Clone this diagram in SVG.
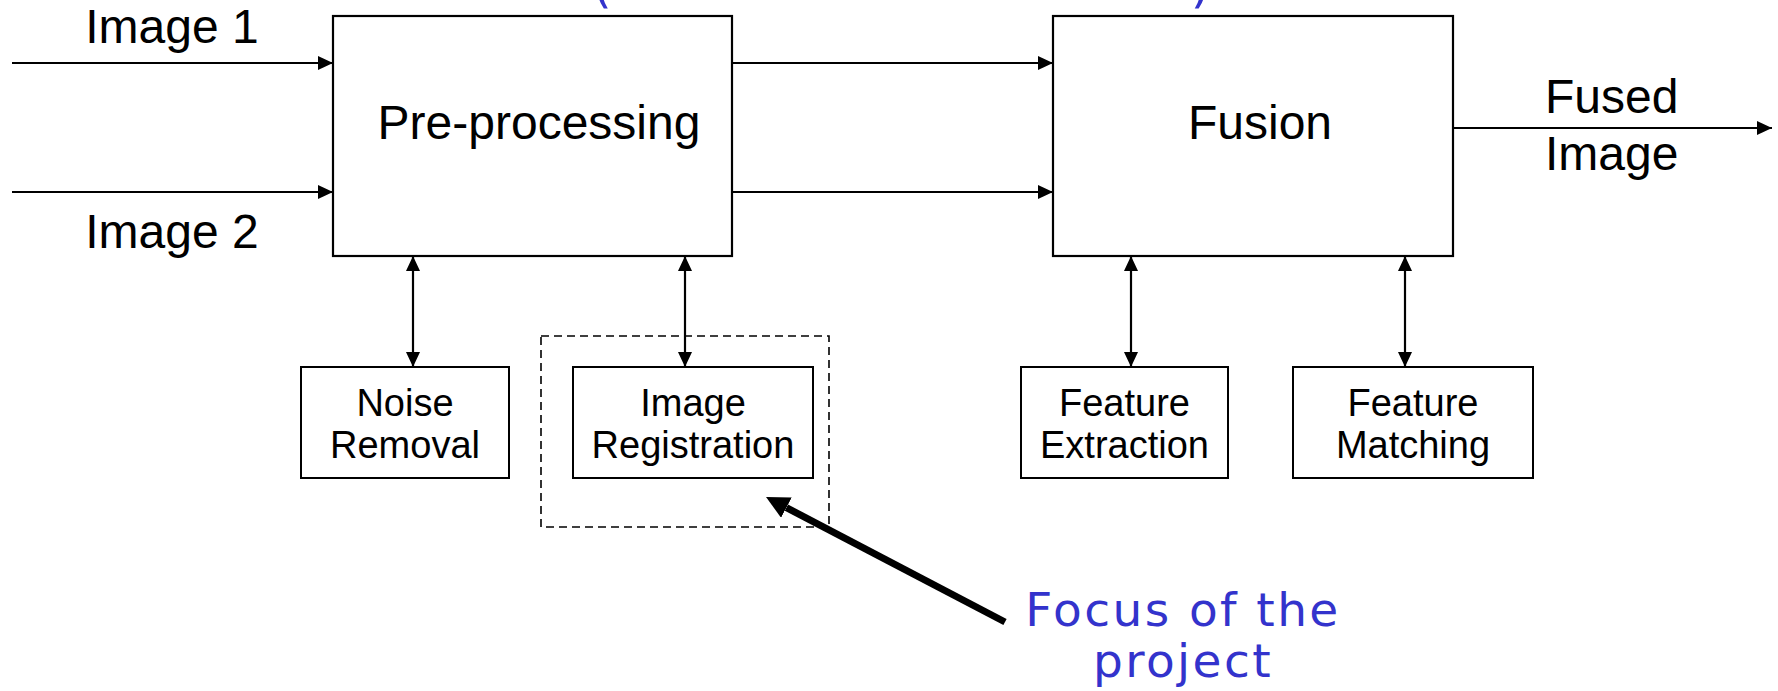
<svg xmlns="http://www.w3.org/2000/svg" width="1778" height="691" viewBox="0 0 1778 691">
<style>
  .box { fill: #fff; stroke: #000; stroke-width: 2.2; }
  .sbox { fill: #fff; stroke: #000; stroke-width: 2; }
  .dash { fill: none; stroke: #000; stroke-width: 1.6; stroke-dasharray: 8 5; }
  .big { font-family: "Liberation Sans", Arial, sans-serif; font-size: 48px; fill: #000; }
  .small { font-family: "Liberation Sans", Arial, sans-serif; font-size: 38px; fill: #000; text-anchor: middle; }
  .blue { font-family: "DejaVu Sans", Verdana, sans-serif; font-size: 47px; fill: #3333cc; text-anchor: middle; letter-spacing: 2.4px; }
  .conn { stroke: #000; stroke-width: 2.2; fill: none; }
</style>
<defs>
  <marker id="ah" markerUnits="userSpaceOnUse" markerWidth="16" markerHeight="16" refX="15" refY="7" orient="auto-start-reverse" viewBox="0 0 16 16">
    <path d="M0,0 L15,7 L0,14 z" fill="#000"/>
  </marker>
  <marker id="bigah" markerUnits="userSpaceOnUse" markerWidth="24" markerHeight="24" refX="0" refY="11.5" orient="auto" viewBox="0 0 24 24">
    <path d="M0,0 L23,11.5 L0,23 z" fill="#000"/>
  </marker>
</defs>
<rect width="1778" height="691" fill="#fff"/>

<g id="title-fragments">
  <text x="602" y="1.5" class="blue" style="font-size:50px;letter-spacing:0">(</text>
  <text x="1200.5" y="1.5" class="blue" style="font-size:50px;letter-spacing:0">)</text>
</g>

<g id="connectors">
  <line class="conn" x1="12" y1="63" x2="333" y2="63" marker-end="url(#ah)"/>
  <line class="conn" x1="12" y1="192" x2="333" y2="192" marker-end="url(#ah)"/>
  <line class="conn" x1="732" y1="63" x2="1053" y2="63" marker-end="url(#ah)"/>
  <line class="conn" x1="732" y1="192" x2="1053" y2="192" marker-end="url(#ah)"/>
  <line class="conn" x1="1453" y1="128" x2="1772" y2="128" marker-end="url(#ah)"/>
  <line class="conn" x1="413" y1="256" x2="413" y2="367" marker-start="url(#ah)" marker-end="url(#ah)"/>
  <line class="conn" x1="685" y1="256" x2="685" y2="367" marker-start="url(#ah)" marker-end="url(#ah)"/>
  <line class="conn" x1="1131" y1="256" x2="1131" y2="367" marker-start="url(#ah)" marker-end="url(#ah)"/>
  <line class="conn" x1="1405" y1="256" x2="1405" y2="367" marker-start="url(#ah)" marker-end="url(#ah)"/>
  <line x1="1005" y1="622" x2="786.4" y2="507.6" stroke="#000" stroke-width="7" marker-end="url(#bigah)"/>
</g>

<g id="input-labels">
  <text x="172" y="43" class="big" text-anchor="middle">Image 1</text>
  <text x="172" y="248" class="big" text-anchor="middle">Image 2</text>
</g>

<g id="preprocessing">
  <rect class="box" x="333" y="16" width="399" height="240"/>
  <text x="539" y="139" class="big" text-anchor="middle">Pre-processing</text>
</g>

<g id="fusion">
  <rect class="box" x="1053" y="16" width="400" height="240"/>
  <text x="1260" y="139" class="big" text-anchor="middle">Fusion</text>
</g>

<g id="output-label">
  <text x="1545" y="113" class="big">Fused</text>
  <text x="1545" y="170" class="big">Image</text>
</g>

<g id="noise-removal">
  <rect class="sbox" x="301" y="367" width="208" height="111"/>
  <text x="405" y="416" class="small">Noise</text>
  <text x="405" y="458" class="small">Removal</text>
</g>

<g id="focus-box">
  <rect class="dash" x="541" y="336" width="288" height="191"/>
</g>

<g id="image-registration">
  <rect class="sbox" x="573" y="367" width="240" height="111"/>
  <text x="693" y="416" class="small">Image</text>
  <text x="693" y="458" class="small">Registration</text>
</g>

<g id="feature-extraction">
  <rect class="sbox" x="1021" y="367" width="207" height="111"/>
  <text x="1124.5" y="416" class="small">Feature</text>
  <text x="1124.5" y="458" class="small">Extraction</text>
</g>

<g id="feature-matching">
  <rect class="sbox" x="1293" y="367" width="240" height="111"/>
  <text x="1413" y="416" class="small">Feature</text>
  <text x="1413" y="458" class="small">Matching</text>
</g>

<g id="focus-label">
  <text x="1183" y="626" class="blue">Focus of the</text>
  <text x="1183" y="677" class="blue">project</text>
</g>
</svg>
